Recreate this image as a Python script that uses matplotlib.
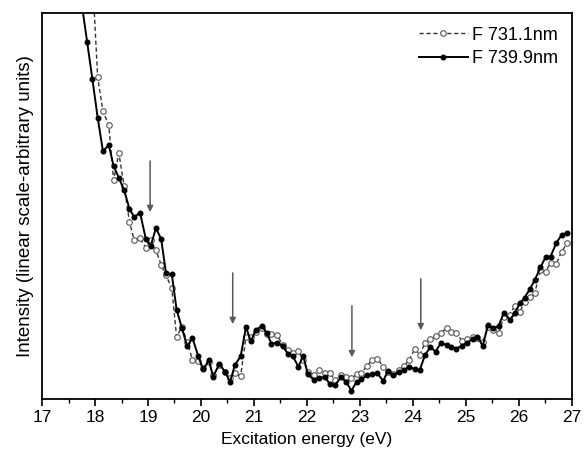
import numpy as np
import matplotlib
matplotlib.use('Agg')
import matplotlib.pyplot as plt

plt.rcParams['font.family'] = ['Liberation Sans', 'DejaVu Sans']

# excitation energies (eV)
energy = [17.75, 17.85, 17.95, 18.05, 18.15, 18.26, 18.35, 18.45, 18.55, 18.65,
          18.74, 18.85, 18.96, 19.05, 19.15, 19.25, 19.34, 19.45, 19.54, 19.64,
          19.74, 19.84, 19.95, 20.04, 20.15, 20.23, 20.35, 20.45, 20.55, 20.64,
          20.75, 20.85, 20.94, 21.04, 21.15, 21.24, 21.33, 21.44, 21.54, 21.64,
          21.73, 21.84, 21.93, 22.02, 22.14, 22.23, 22.34, 22.43, 22.53, 22.64,
          22.74, 22.84, 22.94, 23.03, 23.13, 23.23, 23.33, 23.44, 23.53, 23.63,
          23.74, 23.83, 23.93, 24.04, 24.13, 24.23, 24.33, 24.43, 24.53, 24.64,
          24.73, 24.82, 24.93, 25.02, 25.13, 25.22, 25.32, 25.42, 25.52, 25.62,
          25.72, 25.83, 25.92, 26.02, 26.11, 26.21, 26.30, 26.41, 26.51, 26.60,
          26.71, 26.81, 26.91]

# F 739.9nm (filled dots, solid line)
f739 = [102.3, 92.6, 82.9, 72.9, 64.2, 65.8, 60.4, 57.3, 54.1, 49.3,
        47.1, 48.3, 41.4, 39.6, 44.3, 41.4, 32.6, 32.3, 23.2, 18.4,
        13.7, 15.8, 11.1, 7.7, 10.0, 5.8, 9.2, 7.1, 4.5, 8.8,
        11.1, 18.7, 15.0, 17.9, 19.0, 17.2, 14.4, 14.6, 13.8, 11.8,
        11.2, 8.4, 11.2, 6.4, 4.9, 5.4, 5.8, 3.9, 3.6, 5.6,
        4.5, 2.2, 4.5, 5.1, 6.2, 6.5, 6.7, 4.7, 7.3, 6.2,
        6.9, 7.5, 8.4, 7.7, 7.5, 11.4, 13.5, 12.3, 14.6, 14.0,
        13.5, 13.1, 13.8, 14.6, 15.5, 16.1, 13.8, 19.2, 18.3, 19.0,
        22.4, 20.5, 22.2, 24.8, 26.3, 28.5, 30.8, 34.1, 36.9, 36.9,
        40.5, 42.5, 43.1]

# F 731.1nm (open circles, dashed line)
f731 = [np.nan, np.nan, 109.8, 83.4, 74.5, 71.0, 56.7, 63.7, 55.2, 45.9,
        41.2, 41.6, 39.2, 41.2, 38.6, 34.7, 32.1, 28.7, 16.1, 18.7,
        14.8, 10.1, 9.8, 8.0, 9.6, 6.2, 8.8, 7.0, 5.4, 6.7,
        6.0, 16.1, 16.1, 17.4, 18.4, 16.8, 16.8, 16.6, 14.0, 12.7,
        12.0, 12.4, 10.1, 7.1, 6.2, 7.5, 6.7, 6.8, 4.9, 6.2,
        5.8, 5.4, 6.4, 6.8, 8.5, 10.1, 10.5, 8.4, 7.0, 6.5,
        7.5, 8.5, 10.1, 13.1, 11.4, 14.6, 15.5, 16.3, 17.2, 18.3,
        17.4, 17.0, 15.1, 15.5, 16.1, 15.8, 14.8, 18.7, 17.9, 17.2,
        21.3, 21.8, 24.1, 22.6, 25.2, 26.5, 27.4, 33.4, 33.0, 35.3,
        35.1, 38.2, 40.3]

# arrows marking features: energy, tail height, tip height
arrow_x = [19.04, 20.6, 22.85, 24.15]
arrow_top = [62.4, 33.4, 24.9, 31.9]
arrow_tip = [47.7, 18.7, 10.1, 17.1]

fig = plt.figure(figsize=(5.84, 4.63), dpi=100)
ax = fig.add_axes([0.072, 0.138, 0.907, 0.834])

ax.plot(energy, f731, linestyle='--', color='#333333', linewidth=1.0,
        marker='o', markersize=4, markerfacecolor='white',
        markeredgecolor='#555555', markeredgewidth=0.8,
        label='F 731.1nm', dashes=(3, 2))
ax.plot(energy, f739, linestyle='-', color='black', linewidth=1.4,
        marker='o', markersize=3.3, markerfacecolor='black',
        markeredgecolor='black', label='F 739.9nm')

for x, y0, y1 in zip(arrow_x, arrow_top, arrow_tip):
    ax.annotate('', xy=(x, y1), xytext=(x, y0),
                arrowprops=dict(arrowstyle='-|>', color='#5a5a5a',
                                lw=1.1, mutation_scale=9))

ax.set_xlim(17, 27)
ax.set_ylim(0, 100)
ax.set_xticks(range(17, 28))
ax.set_xticks(np.arange(17.5, 27, 1.0), minor=True)
ax.set_yticks([])
ax.tick_params(axis='x', which='major', direction='out', length=5,
               width=1.2, labelsize=12.5, top=False, pad=3)
ax.tick_params(axis='x', which='minor', direction='out', length=3, width=1.0)
for s in ax.spines.values():
    s.set_linewidth(1.3)

ax.set_xlabel('Excitation energy (eV)', fontsize=12.5, labelpad=5)
ax.set_ylabel('Intensity (linear scale-arbitrary units)', fontsize=13.5,
              labelpad=6)

ax.legend(loc='upper right', frameon=False, fontsize=13, handlelength=2.7,
          handletextpad=0.25, borderaxespad=0.35, labelspacing=0.35)

fig.savefig('out.png', dpi=100)
plt.close('all')
